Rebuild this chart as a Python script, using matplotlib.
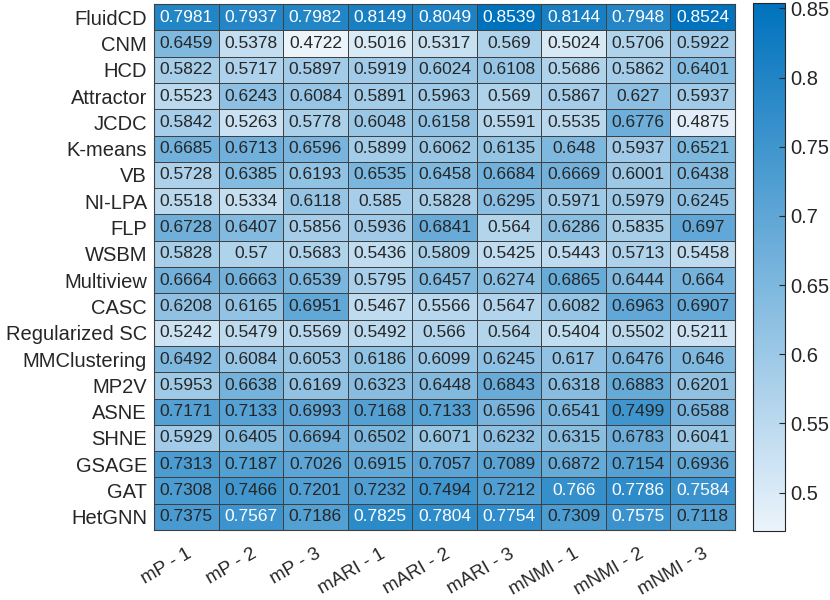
import matplotlib.pyplot as plt
import numpy as np
from matplotlib.colors import LinearSegmentedColormap

plt.rcParams['font.family'] = ['Liberation Sans', 'DejaVu Sans']

methods = ['FluidCD', 'CNM', 'HCD', 'Attractor', 'JCDC', 'K-means', 'VB', 'NI-LPA',
           'FLP', 'WSBM', 'Multiview', 'CASC', 'Regularized SC', 'MMClustering',
           'MP2V', 'ASNE', 'SHNE', 'GSAGE', 'GAT', 'HetGNN']
metrics = ['mP - 1', 'mP - 2', 'mP - 3', 'mARI - 1', 'mARI - 2', 'mARI - 3',
           'mNMI - 1', 'mNMI - 2', 'mNMI - 3']

scores = [
    [0.7981, 0.7937, 0.7982, 0.8149, 0.8049, 0.8539, 0.8144, 0.7948, 0.8524],
    [0.6459, 0.5378, 0.4722, 0.5016, 0.5317, 0.569, 0.5024, 0.5706, 0.5922],
    [0.5822, 0.5717, 0.5897, 0.5919, 0.6024, 0.6108, 0.5686, 0.5862, 0.6401],
    [0.5523, 0.6243, 0.6084, 0.5891, 0.5963, 0.569, 0.5867, 0.627, 0.5937],
    [0.5842, 0.5263, 0.5778, 0.6048, 0.6158, 0.5591, 0.5535, 0.6776, 0.4875],
    [0.6685, 0.6713, 0.6596, 0.5899, 0.6062, 0.6135, 0.648, 0.5937, 0.6521],
    [0.5728, 0.6385, 0.6193, 0.6535, 0.6458, 0.6684, 0.6669, 0.6001, 0.6438],
    [0.5518, 0.5334, 0.6118, 0.585, 0.5828, 0.6295, 0.5971, 0.5979, 0.6245],
    [0.6728, 0.6407, 0.5856, 0.5936, 0.6841, 0.564, 0.6286, 0.5835, 0.697],
    [0.5828, 0.57, 0.5683, 0.5436, 0.5809, 0.5425, 0.5443, 0.5713, 0.5458],
    [0.6664, 0.6663, 0.6539, 0.5795, 0.6457, 0.6274, 0.6865, 0.6444, 0.664],
    [0.6208, 0.6165, 0.6951, 0.5467, 0.5566, 0.5647, 0.6082, 0.6963, 0.6907],
    [0.5242, 0.5479, 0.5569, 0.5492, 0.566, 0.564, 0.5404, 0.5502, 0.5211],
    [0.6492, 0.6084, 0.6053, 0.6186, 0.6099, 0.6245, 0.617, 0.6476, 0.646],
    [0.5953, 0.6638, 0.6169, 0.6323, 0.6448, 0.6843, 0.6318, 0.6883, 0.6201],
    [0.7171, 0.7133, 0.6993, 0.7168, 0.7133, 0.6596, 0.6541, 0.7499, 0.6588],
    [0.5929, 0.6405, 0.6694, 0.6502, 0.6071, 0.6232, 0.6315, 0.6783, 0.6041],
    [0.7313, 0.7187, 0.7026, 0.6915, 0.7057, 0.7089, 0.6872, 0.7154, 0.6936],
    [0.7308, 0.7466, 0.7201, 0.7232, 0.7494, 0.7212, 0.766, 0.7786, 0.7584],
    [0.7375, 0.7567, 0.7186, 0.7825, 0.7804, 0.7754, 0.7309, 0.7575, 0.7118],
]
data = np.array(scores)

cmap = LinearSegmentedColormap.from_list('blues', [(0.92, 0.955, 0.985), (0.0, 0.447, 0.741)])

fig = plt.figure(figsize=(8.3, 6), dpi=100)
ax = fig.add_axes([154 / 830, 70 / 600, 581 / 830, 526 / 600])
cax = fig.add_axes([753 / 830, 69 / 600, 32 / 830, 528 / 600])

vmin, vmax = data.min(), data.max()
mesh = ax.pcolormesh(data, cmap=cmap, vmin=vmin, vmax=vmax, edgecolors='#404040', linewidth=0.5)
ax.set_xlim(0, len(metrics))
ax.set_ylim(len(methods), 0)

for i in range(len(methods)):
    for j in range(len(metrics)):
        v = data[i, j]
        col = 'white' if v > 0.755 else '#262626'
        ax.text(j + 0.5, i + 0.5, f'{v:.4g}', ha='center', va='center', fontsize=12.5, color=col)

ax.set_xticks(np.arange(len(metrics)) + 0.5)
ax.set_xticklabels(metrics, rotation=30, ha='right', rotation_mode='anchor', fontsize=13.5, color='#262626')
ax.set_yticks(np.arange(len(methods)) + 0.5)
ax.set_yticklabels(methods, fontsize=14.5, color='#262626')
ax.tick_params(length=0, pad=5)
ax.tick_params(axis='x', pad=11)
for s in ax.spines.values():
    s.set_color('#404040')

cb = fig.colorbar(mesh, cax=cax)
cb.set_ticks([0.5, 0.55, 0.6, 0.65, 0.7, 0.75, 0.8, 0.85])
cb.set_ticklabels(['0.5', '0.55', '0.6', '0.65', '0.7', '0.75', '0.8', '0.85'])
cax.tick_params(labelsize=14.5, colors='#262626', length=4, direction='in')
cb.outline.set_edgecolor('#262626')

fig.savefig('out.png', dpi=100)
